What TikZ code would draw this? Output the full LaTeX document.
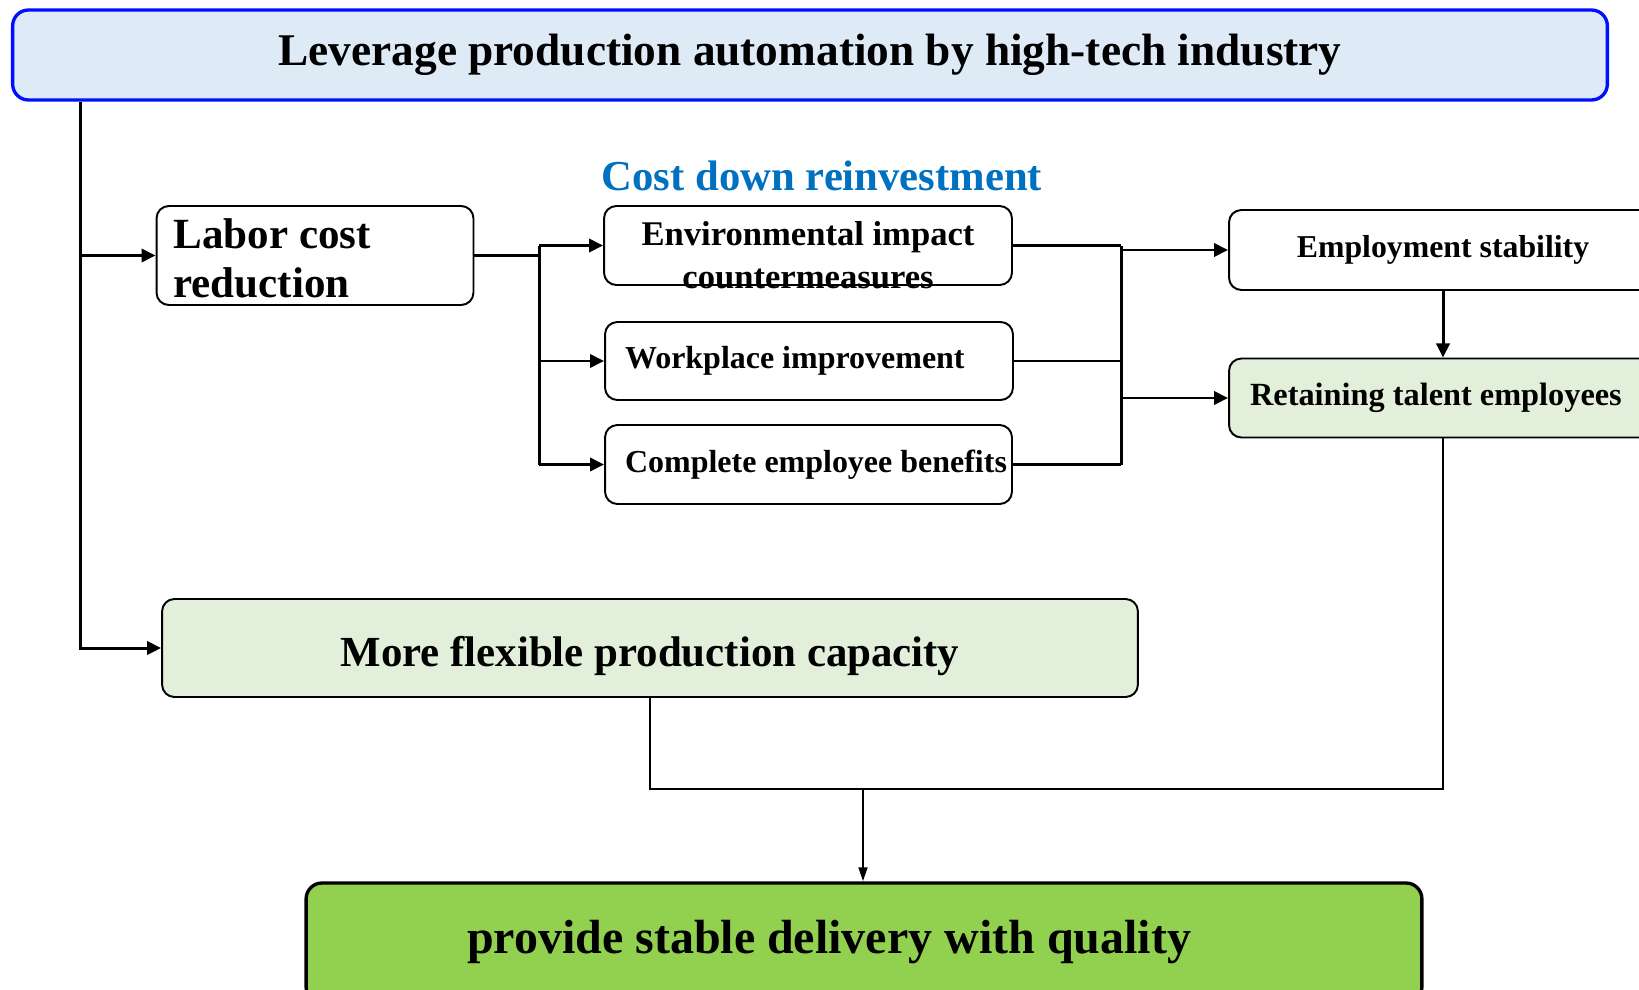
\documentclass[tikz,border=0pt]{standalone}
\usepackage{fontspec}
\setmainfont{Liberation Serif}
\usetikzlibrary{arrows.meta}

\definecolor{topfill}{RGB}{222,235,247}
\definecolor{topline}{RGB}{0,16,255}
\definecolor{palegreen}{RGB}{226,239,218}
\definecolor{goalgreen}{RGB}{146,208,80}
\definecolor{costblue}{RGB}{0,112,192}

\newcommand{\fs}[2]{\fontsize{#1}{#2}\selectfont\bfseries}

\tikzset{
	box/.style={draw, line width=1.1pt, rounded corners=7pt, inner sep=0pt},
	link/.style={line width=1.7pt},
	flow/.style={line width=1.7pt, -{Triangle[length=8pt,width=7.5pt]}}
}

\begin{document}
\begin{tikzpicture}[x=0.02cm, y=-0.02cm]
	\useasboundingbox (0,0) rectangle (1639,990);
	% boxes
	\node[box, line width=1.9pt, rounded corners=9pt, draw=topline, fill=topfill, minimum width=31.9cm, minimum height=1.8cm, font=\fs{25.8pt}{30pt}] (top) at (810,55) {Leverage production automation by high-tech industry};
	\node[box, minimum width=6.34cm, minimum height=1.98cm, text width=5.66cm, align=flush left, inner xsep=0.34cm, text height=0.75cm, text depth=1.05cm, font=\fs{24.5pt}{28pt}] (labor) at (315,255.5) {Labor cost\\reduction};
	\node[costblue, font=\fs{24.3pt}{28pt}] (cost) at (822,176) {Cost down reinvestment};
	\node[box, minimum width=8.16cm, minimum height=1.58cm, text height=0.6cm, text depth=0.6cm, font=\fs{19.7pt}{24.4pt}] (env) at (808,245.5) {\begin{tabular}[t]{@{}c@{}}Environmental impact\\countermeasures\end{tabular}};
	\node[box, minimum width=8.16cm, minimum height=1.56cm, text width=7.36cm, inner xsep=0.4cm, align=flush left, font=\fs{18.2pt}{22pt}] (work) at (809,361) {Workplace improvement};
	\node[box, minimum width=8.14cm, minimum height=1.58cm, font=\fs{18.2pt}{22pt}] (care) at (808.5,464.5) {\hspace*{0.3cm}Complete employee benefits};
	\node[box, minimum width=8.56cm, minimum height=1.6cm, font=\fs{18.1pt}{22pt}] (stab) at (1443,250) {Employment stability};
	\node[box, fill=palegreen, minimum width=8.56cm, minimum height=1.58cm, text width=7.72cm, inner xsep=0.42cm, align=flush left, font=\fs{18.4pt}{22pt}] (keep) at (1443,398) {Retaining talent employees};
	\node[box, fill=palegreen, minimum width=19.52cm, minimum height=1.96cm, text height=0.9cm, text depth=0.18cm, font=\fs{24.4pt}{28pt}] (flex) at (650,648) {More flexible production capacity};
	\node[box, line width=1.9pt, rounded corners=9pt, fill=goalgreen, minimum width=22.32cm, minimum height=2.4cm, text width=15.88cm, inner xsep=3.22cm, align=flush left, text height=0.7cm, text depth=0.3cm, font=\fs{27.3pt}{32pt}] (goal) at (864,943) {provide stable delivery with quality};
	% connectors
	\coordinate (trunk) at (80.5,0);
	\coordinate (split) at (539,0);
	\coordinate (merge) at (1121,0);
	\coordinate (join) at (863,789);
	\draw[flow] (trunk |- top.south) |- (flex.west);
	\draw[flow] (trunk |- labor.west) -- (labor.west);
	\draw[link] (labor.east) -- (split |- labor.east);
	\draw[link] (split |- env.west) -- (split |- care.west);
	\foreach \n in {env,work,care}
		\draw[flow] (split |- \n.west) -- (\n.west);
	\foreach \n in {env,work,care}
		\draw[link] (\n.east) -- (merge |- \n.east);
	\draw[link] (merge |- env.east) -- (merge |- care.east);
	\draw[flow] (merge |- stab.west) -- (stab.west);
	\draw[flow] (merge |- keep.west) -- (keep.west);
	\draw[flow] (stab.south) -- (keep.north);
	\draw[link, line width=1.4pt] (keep.south) |- (join);
	\draw[link, line width=1.4pt] (flex.south) |- (join);
	\draw[flow, line width=1.4pt, -{Triangle[length=8pt,width=5pt]}] (join) -- (join |- goal.north);
\end{tikzpicture}
\end{document}
